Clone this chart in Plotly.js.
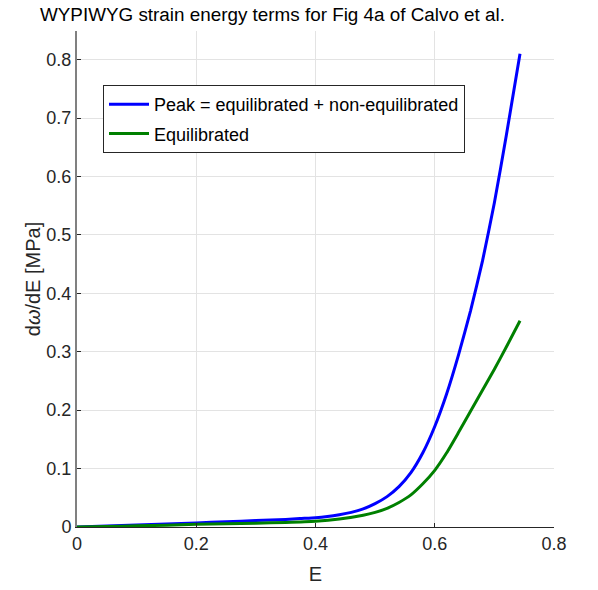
<!DOCTYPE html>
<html>
<head>
<meta charset="utf-8">
<script src="https://cdn.plot.ly/plotly-3.0.1.min.js"></script>
<style>html,body{margin:0;padding:0;background:#fff;}#chart{width:598px;height:590px;}</style>
</head>
<body>
<div id="chart"></div>
<script>
// Strain E values for the peak (equilibrated + non-equilibrated) curve
var peakE = [0, 0.05, 0.10, 0.15, 0.20, 0.25, 0.30, 0.35, 0.374, 0.40, 0.42, 0.44, 0.46, 0.48, 0.50, 0.52, 0.54, 0.56, 0.58, 0.60, 0.62, 0.64, 0.66, 0.68, 0.70, 0.72, 0.743];
var peakVal = [0, 0.0018, 0.0035, 0.005, 0.007, 0.009, 0.011, 0.013, 0.0145, 0.016, 0.018, 0.021, 0.025, 0.031, 0.040, 0.052, 0.069, 0.093, 0.127, 0.172, 0.228, 0.295, 0.370, 0.455, 0.555, 0.670, 0.810];
// Equilibrated curve
var eqE = [0, 0.05, 0.10, 0.15, 0.20, 0.25, 0.30, 0.35, 0.40, 0.44, 0.48, 0.50, 0.52, 0.54, 0.56, 0.58, 0.60, 0.62, 0.64, 0.66, 0.68, 0.70, 0.72, 0.743];
var eqVal = [0, 0.001, 0.002, 0.003, 0.0045, 0.0055, 0.0065, 0.0078, 0.0098, 0.0135, 0.020, 0.025, 0.032, 0.042, 0.055, 0.074, 0.097, 0.127, 0.162, 0.198, 0.234, 0.270, 0.308, 0.353];
var seriesNames = ['Peak = equilibrated + non-equilibrated', 'Equilibrated'];
var xTicks = [0, 0.2, 0.4, 0.6, 0.8];
var xTickText = ['0', '0.2', '0.4', '0.6', '0.8'];
var yTicks = [0, 0.1, 0.2, 0.3, 0.4, 0.5, 0.6, 0.7, 0.8];
var yTickText = ['0', '0.1', '0.2', '0.3', '0.4', '0.5', '0.6', '0.7', '0.8'];

var FONT = 'Liberation Sans, Arial, Helvetica, sans-serif';
var traces = [
  {x: peakE, y: peakVal, name: seriesNames[0], mode: 'lines', type: 'scatter',
   line: {color: '#0000ff', width: 3, shape: 'spline', smoothing: 0.5}, legendgroup: 'a'},
  {x: eqE, y: eqVal, name: seriesNames[1], mode: 'lines', type: 'scatter',
   line: {color: '#008000', width: 3, shape: 'spline', smoothing: 0.5}, legendgroup: 'b'}
];
var layout = {
  width: 598, height: 590,
  margin: {l: 77, r: 44, t: 31, b: 63},
  paper_bgcolor: '#ffffff', plot_bgcolor: '#ffffff',
  font: {family: FONT, color: '#262626', size: 18},
  title: {text: 'WYPIWYG strain energy terms for Fig 4a of Calvo et al.',
          font: {family: FONT, size: 18.85, color: '#000000'},
          xref: 'container', x: 40/598, xanchor: 'left',
          yref: 'container', y: 1 - 14/590, yanchor: 'middle'},
  xaxis: {range: [0, 0.8], tickvals: xTicks, ticktext: xTickText,
          showgrid: true, gridcolor: '#e3e3e3', gridwidth: 1,
          zeroline: false, showline: true, linecolor: '#262626', linewidth: 1,
          ticks: 'inside', ticklen: 4, tickcolor: '#262626',
          tickfont: {family: FONT, size: 18, color: '#262626'},
          title: {text: 'E', font: {family: FONT, size: 20, color: '#262626'}, standoff: 14},
          mirror: false, fixedrange: true},
  yaxis: {range: [0, 0.849], tickvals: yTicks, ticktext: yTickText,
          showgrid: true, gridcolor: '#e3e3e3', gridwidth: 1,
          zeroline: false, showline: true, linecolor: '#808080', linewidth: 2,
          ticks: 'inside', ticklen: 4, tickcolor: '#262626',
          tickfont: {family: FONT, size: 18, color: '#262626'},
          title: {text: 'd<i>ω</i>/dE [MPa]', font: {family: FONT, size: 20, color: '#262626'}, standoff: 0},
          mirror: false, fixedrange: true},
  showlegend: true,
  legend: {x: (103 - 77) / 477, y: 1 - (85 - 31) / 496, xanchor: 'left', yanchor: 'top',
           bgcolor: '#ffffff', bordercolor: '#262626', borderwidth: 1,
           font: {family: FONT, size: 18, color: '#000000'},
           traceorder: 'grouped', tracegroupgap: 3, itemwidth: 40}
};
Plotly.newPlot('chart', traces, layout, {displayModeBar: false, staticPlot: true});
</script>
</body>
</html>
